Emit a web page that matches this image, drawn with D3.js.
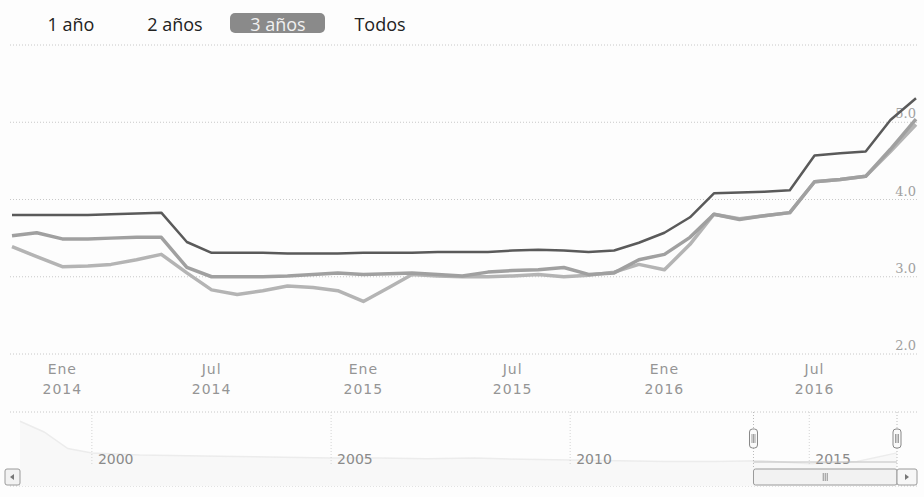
<!DOCTYPE html>
<html><head><meta charset="utf-8">
<script src="https://cdn.jsdelivr.net/npm/d3@7/dist/d3.min.js"></script>
<style>
body{margin:0;background:#fdfdfd;}
svg{display:block;font-family:"Open Sans",sans-serif;}
</style></head><body>
<svg id="c" width="924" height="497"></svg>
<script>
// ---- data ----
const months = ["2013-11","2013-12","2014-01","2014-02","2014-03","2014-04","2014-05","2014-06","2014-07","2014-08","2014-09","2014-10","2014-11","2014-12",
"2015-01","2015-02","2015-03","2015-04","2015-05","2015-06","2015-07","2015-08","2015-09","2015-10","2015-11","2015-12",
"2016-01","2016-02","2016-03","2016-04","2016-05","2016-06","2016-07","2016-08","2016-09","2016-10","2016-11"];
const seriesA = [3.80,3.80,3.80,3.80,3.81,3.82,3.83,3.45,3.31,3.31,3.31,3.30,3.30,3.30,3.31,3.31,3.31,3.32,3.32,3.32,3.34,3.35,3.34,3.32,3.34,3.44,3.57,3.77,4.08,4.09,4.10,4.12,4.57,4.60,4.62,5.03,5.31];
const seriesB = [3.53,3.57,3.49,3.49,3.50,3.51,3.51,3.12,3.00,3.00,3.00,3.01,3.03,3.05,3.03,3.04,3.05,3.03,3.01,3.06,3.08,3.09,3.12,3.03,3.05,3.22,3.29,3.51,3.81,3.74,3.79,3.83,4.23,4.26,4.30,4.65,5.04];
const seriesC = [3.39,3.26,3.13,3.14,3.16,3.22,3.29,3.05,2.83,2.77,2.82,2.88,2.86,2.82,2.68,2.86,3.03,3.01,3.00,3.00,3.01,3.03,3.00,3.02,3.06,3.16,3.09,3.42,3.81,3.75,3.79,3.83,4.23,4.26,4.30,4.62,4.97];
const yTicks = [2.0,3.0,4.0,5.0,6.0];
const xTicks = ["2014-01","2014-07","2015-01","2015-07","2016-01","2016-07"];
const monthNames = ["Ene","Feb","Mar","Abr","May","Jun","Jul","Ago","Sep","Oct","Nov","Dic"];
const buttons = ["1 año","2 años","3 años","Todos"];
const selectedButton = "3 años";
const navMonths = ["1998-07","1999-01","1999-07","2000-01","2001-01","2002-01","2003-01","2004-01","2005-01","2006-01","2007-01","2008-01","2009-01","2010-01","2011-01","2012-01","2013-01","2014-01","2015-01","2016-01","2016-11"];
const navValues = [9.0,7.5,5.2,4.6,4.3,4.2,4.1,4.0,3.9,3.9,3.8,3.9,3.7,3.6,3.5,3.4,3.4,3.5,3.1,3.4,4.6];
const navTicks = ["2000-01","2005-01","2010-01","2015-01"];

const parse = d3.timeParse("%Y-%m");
const svg = d3.select("#c");

// ---- range selector ----
const btnX = [71,175,278,380];
buttons.forEach((b,i)=>{
  if(b===selectedButton){
    svg.append("rect").attr("x",230).attr("y",13).attr("width",95).attr("height",20)
      .attr("rx",5).attr("fill","#8a8a8a");
  }
  svg.append("text").attr("x",btnX[i]).attr("y",31).attr("text-anchor","middle")
    .attr("font-size",18).attr("fill",b===selectedButton?"#f0f0f0":"#222").text(b);
});

// ---- main chart ----
const x = d3.scaleTime().domain([parse(months[0]),parse(months[months.length-1])]).range([12,916]);
const y = d3.scaleLinear().domain([2,6]).range([354,45]);

const grid = svg.append("g");
yTicks.forEach(t=>{
  grid.append("line").attr("x1",10).attr("x2",917).attr("y1",y(t)).attr("y2",y(t))
    .attr("stroke","#c8c8c8").attr("stroke-width",1).attr("stroke-dasharray","1,2");
  if(t<6) grid.append("text").attr("x",916).attr("y",y(t)-4).attr("text-anchor","end")
    .attr("font-size",13).attr("font-family","DejaVu Serif").attr("fill","#a0a0a0").text(t.toFixed(1));
});

const xAxis = d3.axisBottom(x).tickValues(xTicks.map(parse)).tickSize(0).tickFormat("");
const xg = svg.append("g").attr("transform","translate(0,354)").call(xAxis);
xg.select(".domain").remove();
xTicks.forEach(s=>{
  const d=parse(s);
  const t=svg.append("text").attr("x",x(d)).attr("y",374).attr("text-anchor","middle")
    .attr("font-size",14).attr("font-family","DejaVu Sans").attr("letter-spacing",1).attr("fill","#959595");
  t.append("tspan").attr("x",x(d)).text(monthNames[d.getMonth()]);
  t.append("tspan").attr("x",x(d)).attr("dy",20).text(d.getFullYear());
});

const line = d3.line().x((d,i)=>x(parse(months[i]))).y(d=>y(d));
[[seriesC,"#b4b4b4",3.5],[seriesB,"#a0a0a0",3.5],[seriesA,"#5a5a5a",2.5]].forEach(([s,c,w])=>{
  svg.append("path").datum(s).attr("d",line).attr("fill","none").attr("stroke",c)
    .attr("stroke-width",w).attr("stroke-linejoin","round");
});

// ---- navigator ----
const nx = d3.scaleTime().domain([parse(navMonths[0]),parse(navMonths[navMonths.length-1])]).range([20,897]);
const ny = d3.scaleLinear().domain([0,10]).range([486,414]);
svg.append("line").attr("x1",10).attr("x2",917).attr("y1",412).attr("y2",412)
  .attr("stroke","#c8c8c8").attr("stroke-dasharray","1,2");
svg.append("line").attr("x1",10).attr("x2",917).attr("y1",486).attr("y2",486)
  .attr("stroke","#c8c8c8").attr("stroke-dasharray","1,2");
const navArea = d3.area().x((d,i)=>nx(parse(navMonths[i]))).y0(486).y1(d=>ny(d));
svg.append("path").datum(navValues).attr("d",navArea).attr("fill","#f8f8f8");
svg.append("path").datum(navValues).attr("d",d3.line().x((d,i)=>nx(parse(navMonths[i]))).y(d=>ny(d)))
  .attr("fill","none").attr("stroke","#ececec").attr("stroke-width",1.5);
navTicks.forEach(s=>{
  const d=parse(s);
  svg.append("line").attr("x1",nx(d)).attr("x2",nx(d)).attr("y1",412).attr("y2",466)
    .attr("stroke","#d4d4d4").attr("stroke-dasharray","1,2");
  svg.append("text").attr("x",nx(d)+6).attr("y",464).attr("font-size",14)
    .attr("font-family","DejaVu Sans").attr("fill","#8a8a8a").text(d.getFullYear());
});
const h0 = nx(parse(months[0])), h1 = nx(parse(months[months.length-1]));
svg.append("line").attr("x1",h0).attr("x2",h1).attr("y1",462).attr("y2",462).attr("stroke","#c0c0c0");
[h0,h1].forEach(hx=>{
  svg.append("line").attr("x1",hx).attr("x2",hx).attr("y1",412).attr("y2",468)
    .attr("stroke","#bbb").attr("stroke-dasharray","1,2");
  svg.append("rect").attr("x",hx-4).attr("y",429).attr("width",8).attr("height",19).attr("rx",3)
    .attr("fill","#fafafa").attr("stroke","#888");
  [-1.5,0,1.5].forEach(o=>svg.append("line").attr("x1",hx+o).attr("x2",hx+o).attr("y1",434).attr("y2",443)
    .attr("stroke","#777").attr("stroke-width",0.7));
});
// scrollbar
svg.append("rect").attr("x",h0).attr("y",469).attr("width",h1-h0).attr("height",16).attr("rx",2)
  .attr("fill","#f2f2f2").attr("stroke","#9a9a9a");
const gm=(h0+h1)/2;
[-2,0,2].forEach(o=>svg.append("line").attr("x1",gm+o).attr("x2",gm+o).attr("y1",473).attr("y2",481)
  .attr("stroke","#777").attr("stroke-width",0.8));
svg.append("rect").attr("x",5).attr("y",469).attr("width",15).attr("height",16).attr("rx",2)
  .attr("fill","#f2f2f2").attr("stroke","#9a9a9a");
svg.append("path").attr("d","M14,474 L10,477 L14,480Z").attr("fill","#777");
svg.append("rect").attr("x",h1).attr("y",469).attr("width",20).attr("height",16).attr("rx",2)
  .attr("fill","#f7f7f7").attr("stroke","#9a9a9a");
svg.append("path").attr("d",`M${h1+8},474 L${h1+12},477 L${h1+8},480Z`).attr("fill","#777");
</script></body></html>
